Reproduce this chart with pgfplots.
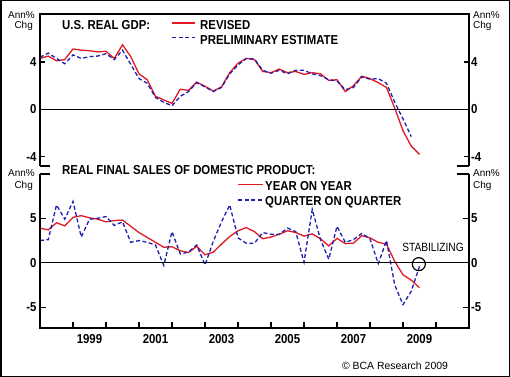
\documentclass[border=0pt]{standalone}
\usepackage{fontspec}
\setmainfont{Liberation Sans}
\newfontfamily\nfont[FakeStretch=0.88]{Liberation Sans}
\newfontfamily\sfont[FakeStretch=0.85]{Liberation Sans}
\usepackage{pgfplots}
\usepackage{pgfplotstable}
\pgfplotsset{compat=1.18}
\definecolor{bcared}{RGB}{225,25,35}
\definecolor{bcablue}{RGB}{30,30,175}
\newcommand{\bft}{\nfont\bfseries\fontsize{13}{14}\selectfont}
\newcommand{\smt}{\fontsize{10}{11}\selectfont}

\pgfplotstableread{
x gdprev gdpprel fsyoy fsqoq
1998.00 4.3 4.4 3.9 2.5
1998.25 4.5 4.75 3.7 2.6
1998.50 4.1 4.3 4.5 6.5
1998.75 4.2 3.85 4.15 4.9
1999.00 5.1 4.6 5.1 6.9
1999.25 5.0 4.3 5.3 2.9
1999.50 4.95 4.45 5.05 4.9
1999.75 4.85 4.5 4.9 5.0
2000.00 4.9 4.7 4.6 5.2
2000.25 4.3 4.2 4.75 4.2
2000.50 5.45 5.0 4.8 4.6
2000.75 4.45 3.8 4.1 2.3
2001.00 3.0 2.6 3.4 2.5
2001.25 2.5 2.2 2.85 2.3
2001.50 1.1 1.0 2.3 2.0
2001.75 0.8 0.6 1.75 -0.3
2002.00 0.5 0.3 1.8 3.5
2002.25 1.7 1.1 1.35 1.0
2002.50 1.6 1.5 1.15 1.2
2002.75 2.3 2.25 1.85 2.0
2003.00 1.95 1.9 0.9 -0.25
2003.25 1.55 1.5 1.2 2.4
2003.50 1.9 1.85 2.1 4.6
2003.75 3.1 3.0 2.95 6.5
2004.00 3.9 3.75 3.6 2.8
2004.25 4.3 4.3 3.95 2.2
2004.50 4.2 4.25 3.5 2.2
2004.75 3.2 3.3 2.7 3.4
2005.00 3.1 3.05 2.9 3.2
2005.25 3.4 3.3 3.2 3.2
2005.50 3.1 3.0 3.6 3.9
2005.75 3.2 3.3 3.4 3.5
2006.00 2.95 3.3 3.0 0.05
2006.25 3.1 3.0 3.25 6.0
2006.50 3.0 2.85 2.7 2.6
2006.75 2.45 2.5 1.9 0.4
2007.00 2.5 2.4 2.75 4.1
2007.25 1.5 1.65 2.15 2.3
2007.50 2.0 1.85 2.2 2.6
2007.75 2.8 2.75 3.05 3.3
2008.00 2.6 2.55 2.8 2.7
2008.25 2.25 2.6 2.3 -0.1
2008.50 1.85 2.2 2.1 2.5
2008.75 0.1 0.6 0.15 -2.5
2009.00 -1.8 -0.8 -1.35 -4.7
2009.25 -3.1 -2.3 -1.95 -3.2
2009.50 -3.8 nan -2.8 -0.4
}\datatab

\tikzset{
  redline/.style={bcared, line width=1.3bp},
  blueline/.style={bcablue, line width=1.3bp, dash pattern=on 4bp off 2.5bp},
}
\pgfplotsset{
  panel/.style={
    scale only axis, width=429bp,
    xmin=1998, xmax=2011,
    axis line style={draw=none},
    tick align=inside, major tick length=5bp,
    tick style={black, line width=1.3bp},
    yticklabel style={font=\bft},
    xticklabel style={font=\bft},
    clip=false,
  },
}

\begin{document}
\begin{tikzpicture}
\useasboundingbox (0bp,0bp) rectangle (510bp,377bp);
\draw[line width=1.5bp] (0.75bp,0.75bp) rectangle (509.25bp,376.25bp);

% ---------- top panel ----------
\begin{axis}[panel, at={(40bp,211bp)}, anchor=south west, height=152bp,
  ymin=-4.78, ymax=8.05, xtick=\empty,
  ytick={-4,0,4}, yticklabels={-4,0,4}, ytick pos=both, yticklabel pos=left]
  \addplot[redline] table[x=x,y=gdprev]{\datatab};
  \addplot[blueline, unbounded coords=discard] table[x=x,y=gdpprel]{\datatab};
  \draw[line width=1.2bp] (axis cs:1998,0) -- (axis cs:2011,0);
  \draw[line width=1.5bp] (rel axis cs:0,0) -- (rel axis cs:0,1) -- (rel axis cs:1,1) -- (rel axis cs:1,0);
  \draw[line width=1.3bp] (rel axis cs:0,0) -- ++(10bp,0bp);
  \draw[line width=1.3bp] (rel axis cs:1,0) -- ++(-12bp,0bp);
\end{axis}
\begin{axis}[panel, at={(40bp,211bp)}, anchor=south west, height=152bp,
  ymin=-4.78, ymax=8.05, xtick=\empty, major tick length=0pt,
  ytick={-4,0,4}, yticklabels={-4,0,4}, yticklabel pos=right,
  yticklabel style={font=\bft, xshift=-1.5bp}]
\end{axis}

% ---------- bottom panel ----------
\begin{axis}[panel, at={(40bp,49bp)}, anchor=south west, height=154bp,
  ymin=-7.33, ymax=9.98,
  xtick={1999,2000,...,2010}, xticklabels={}, xtick pos=bottom,
  major tick length=6bp,
  extra x ticks={1999.5,2001.5,2003.5,2005.5,2007.5,2009.5},
  extra x tick labels={1999,2001,2003,2005,2007,2009},
  extra x tick style={major tick length=0pt, xticklabel style={font=\bft, yshift=-3bp}},
  ytick={-5,0,5}, yticklabels={-5,0,5}, ytick pos=both, yticklabel pos=left]
  \addplot[redline] table[x=x,y=fsyoy]{\datatab};
  \addplot[blueline] table[x=x,y=fsqoq]{\datatab};
  \draw[line width=1.2bp] (axis cs:1998,0) -- (axis cs:2011,0);
  \draw[line width=1.5bp] (rel axis cs:0,1) -- (rel axis cs:0,0) -- (rel axis cs:1,0) -- (rel axis cs:1,1);
  \draw[line width=1.3bp] (rel axis cs:0,1) -- ++(10bp,0bp);
  \draw[line width=1.3bp] (rel axis cs:1,1) -- ++(-12bp,0bp);
  \node[draw, circle, line width=1.2bp, minimum size=13bp, inner sep=0pt] at (axis cs:2009.48,-0.15) {};
\end{axis}
\begin{axis}[panel, at={(40bp,49bp)}, anchor=south west, height=154bp,
  ymin=-7.33, ymax=9.98, xtick=\empty, major tick length=0pt,
  ytick={-5,0,5}, yticklabels={-5,0,5}, yticklabel pos=right,
  yticklabel style={font=\bft, xshift=-1.5bp}]
\end{axis}

% ---------- titles and legends ----------
\begin{scope}[x=1bp,y=1bp]
\node[anchor=west, font=\bft, inner sep=0pt] at (62,352) {U.S. REAL GDP:};
\draw[redline] (172,354) -- (195,354);
\node[anchor=west, font=\bft, inner sep=0pt] at (200,352) {REVISED};
\draw[blueline] (172,339.5) -- (195,339.5);
\node[anchor=west, font=\bft, inner sep=0pt] at (200,336.5) {PRELIMINARY ESTIMATE};

\node[anchor=west, font=\bft, inner sep=0pt] at (62,207) {REAL FINAL SALES OF DOMESTIC PRODUCT:};
\draw[redline] (238,192.7) -- (263,192.7);
\node[anchor=west, font=\bft, inner sep=0pt] at (265,190.5) {YEAR ON YEAR};
\draw[blueline] (238,177) -- (263,177);
\node[anchor=west, font=\bft, inner sep=0pt] at (265,174.7) {QUARTER ON QUARTER};

\node[font=\sfont\fontsize{12}{13}\selectfont, inner sep=0pt] at (433,130) {STABILIZING};

% ---------- unit labels ----------
\node[anchor=base east, font=\smt, inner sep=0pt] at (35,358.7) {Ann\%};
\node[anchor=base east, font=\smt, inner sep=0pt] at (33,349) {Chg};
\node[anchor=base west, font=\smt, inner sep=0pt] at (473,358.7) {Ann\%};
\node[anchor=base west, font=\smt, inner sep=0pt] at (473,349) {Chg};
\node[anchor=base east, font=\smt, inner sep=0pt] at (35,200.3) {Ann\%};
\node[anchor=base east, font=\smt, inner sep=0pt] at (33,188.5) {Chg};
\node[anchor=base west, font=\smt, inner sep=0pt] at (473,200.3) {Ann\%};
\node[anchor=base west, font=\smt, inner sep=0pt] at (473,188.5) {Chg};

\node[anchor=base, font=\fontsize{10.5}{12}\selectfont, inner sep=0pt] at (395,8) {© BCA Research 2009};
\end{scope}
\end{tikzpicture}
\end{document}
